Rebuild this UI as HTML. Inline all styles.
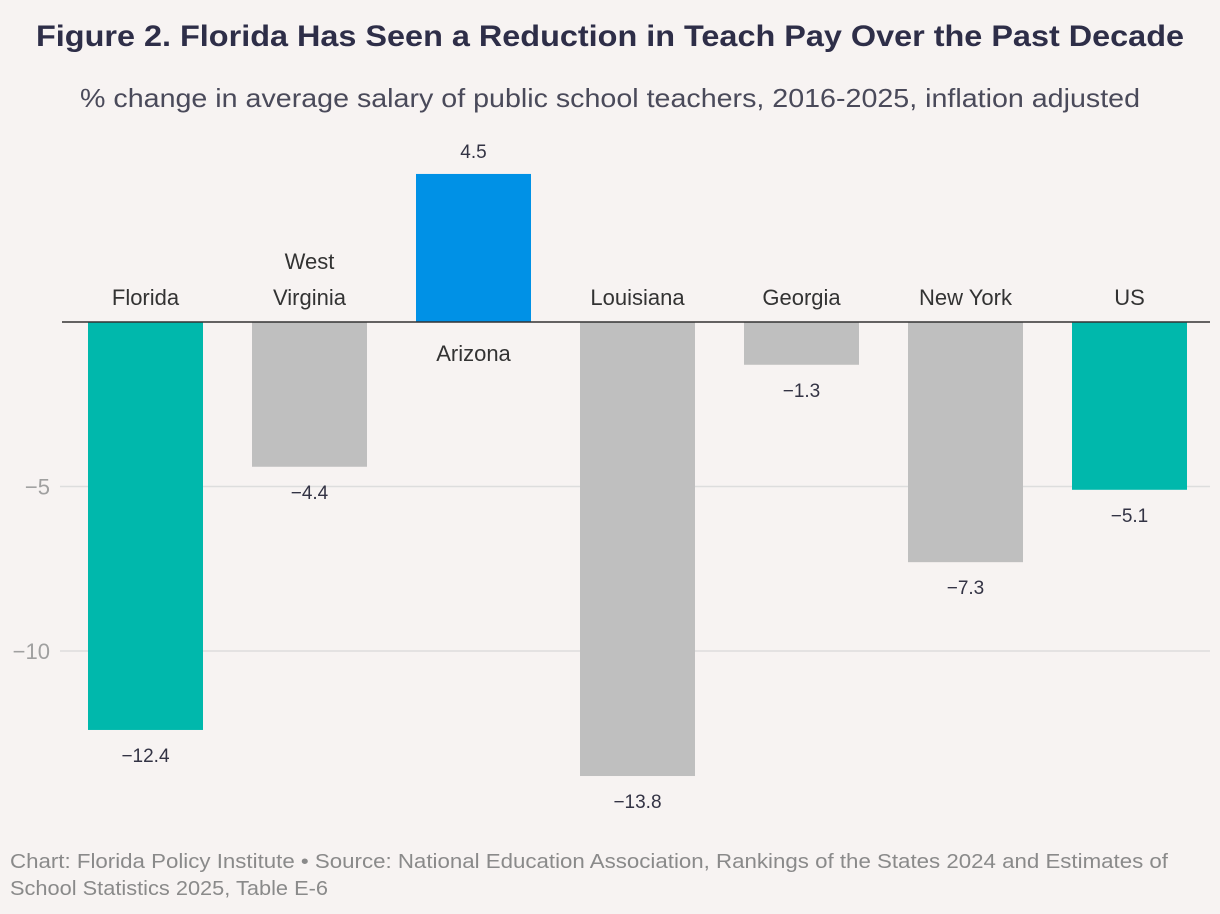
<!DOCTYPE html>
<html><head><meta charset="utf-8">
<style>
body{margin:0;background:#f7f3f2;font-family:"Liberation Sans",sans-serif;}
svg{display:block}
</style></head>
<body>
<svg id="chart" width="1220" height="914">
<rect width="1220" height="914" fill="#f7f3f2"/>
<text x="36" y="46" font-size="30" font-weight="bold" fill="#2e2e48" textLength="1148" lengthAdjust="spacingAndGlyphs">Figure 2. Florida Has Seen a Reduction in Teach Pay Over the Past Decade</text>
<text x="80" y="107" font-size="26" fill="#4a4a5a" textLength="1060" lengthAdjust="spacingAndGlyphs">% change in average salary of public school teachers, 2016-2025, inflation adjusted</text>
<g id="grid"></g>
<g id="bars"></g>
<text x="10" y="868" font-size="20" fill="#8a8a8a" textLength="1158" lengthAdjust="spacingAndGlyphs">Chart: Florida Policy Institute • Source: National Education Association, Rankings of the States 2024 and Estimates of</text>
<text x="10" y="895" font-size="20" fill="#8a8a8a" textLength="318" lengthAdjust="spacingAndGlyphs">School Statistics 2025, Table E-6</text>
</svg>
<script>
const categories=["Florida","West Virginia","Arizona","Louisiana","Georgia","New York","US"];
const values=[-12.4,-4.4,4.5,-13.8,-1.3,-7.3,-5.1];
const colors=["#00b8ac","#bfbfbf","#0091e6","#bfbfbf","#bfbfbf","#bfbfbf","#00b8ac"];
const ticks=[-5,-10];
const tickLabels=["\u22125","\u221210"];
const NS="http://www.w3.org/2000/svg";
const y0=322,unit=32.9;
function y(v){return y0-v*unit;}
function x(i){return 88+i*164;}
const bw=115;
function mk(tag,attrs,parent){const e=document.createElementNS(NS,tag);for(const k in attrs)e.setAttribute(k,attrs[k]);parent.appendChild(e);return e;}
const grid=document.getElementById('grid'),bars=document.getElementById('bars');
ticks.forEach((t,i)=>{
 const l=mk('line',{x1:60,x2:1210,y1:y(t),y2:y(t),stroke:'#dddddd','stroke-width':1.5},grid);
 
 
 const tx=mk('text',{x:50,y:y(t)+8,'text-anchor':'end','font-size':22,fill:'#a0a0a0'},grid);
 tx.textContent=tickLabels[i];
 
 
});
categories.forEach((c,i)=>{
 const v=values[i];
 const top=Math.min(y(v),y0),h=Math.abs(y(v)-y0);
 const r=mk('rect',{x:x(i),y:top,width:bw,height:h,fill:colors[i]},bars);
 
 
 const cx=x(i)+bw/2;
 const vl=mk('text',{x:cx,'text-anchor':'middle','font-size':19,fill:'#333344'},bars);
 vl.textContent=(v<0?'\u2212':'')+Math.abs(v).toFixed(1);
 vl.setAttribute('y',v<0?y(v)+32:y(v)-16);
 
 
 const words=c==="West Virginia"?["West","Virginia"]:[c];
 words.forEach((w,j)=>{
  const cl=mk('text',{x:cx,'text-anchor':'middle','font-size':22,fill:'#333333'},bars);
  cl.textContent=w;
  const base=v<0?305-(words.length-1-j)*36:361;
  cl.setAttribute('y',base);
  
  
 });
});
const z=mk('line',{x1:62,x2:1210,y1:y0,y2:y0,stroke:'#333333','stroke-width':1.5},bars);


</script>
</body></html>
